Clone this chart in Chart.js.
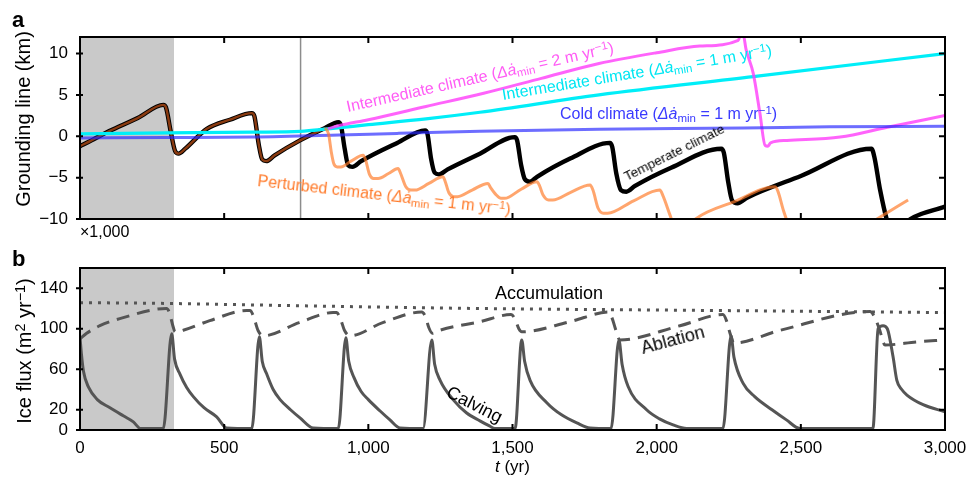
<!DOCTYPE html>
<html lang="en">
<head>
<meta charset="UTF-8">
<title>Grounding line and ice flux</title>
<style>
body { margin:0; background:#fff; font-family:"Liberation Sans", Arial, sans-serif; }
#wrap { position:relative; width:970px; height:477px; overflow:hidden; }
canvas { position:absolute; left:0; }
.lab { position:absolute; white-space:nowrap; line-height:1; font-size:16px; transform-origin:0 0.85em; }
.ytitle { position:absolute; white-space:nowrap; line-height:1; font-size:20px; transform:translate(-50%,-50%) rotate(-90deg); }
.panel { position:absolute; font-weight:bold; font-size:22px; line-height:1; }
.sub { font-size:0.72em; position:relative; top:0.3em; }
.sup { font-size:0.72em; position:relative; top:-0.45em; }
</style>
</head>
<body>
<div id="wrap">
<canvas id="chartA" width="970" height="240" style="top:0"></canvas>
<canvas id="chartB" width="970" height="237" style="top:240px"></canvas>

<div class="panel" style="left:12px;top:9px">a</div>
<div class="panel" style="left:12px;top:248px">b</div>
<div class="ytitle" style="left:23px;top:119px">Grounding line (km)</div>
<div class="ytitle" style="left:24px;top:351px">Ice flux (m<span class="sup">2</span> yr<span class="sup">&minus;1</span>)</div>
<div class="lab" style="left:80px;top:224px">&times;1,000</div>

<div class="lab" style="left:348px;top:99px;color:#ff5cf5;transform:rotate(-12.6deg)">Intermediate climate (<i>&Delta;&#551;</i><span class="sub">min</span> = 2 m yr<span class="sup">&minus;1</span>)</div>
<div class="lab" style="left:503px;top:87px;color:#00e6f2;transform:rotate(-9.4deg)">Intermediate climate (<i>&Delta;&#551;</i><span class="sub">min</span> = 1 m yr<span class="sup">&minus;1</span>)</div>
<div class="lab" style="left:560px;top:106px;color:#3a3aff">Cold climate (<i>&Delta;&#551;</i><span class="sub">min</span> = 1 m yr<span class="sup">&minus;1</span>)</div>
<div class="lab" style="left:627px;top:170px;font-size:13.5px;transform:rotate(-26.5deg)">Temperate climate</div>
<div class="lab" style="left:257px;top:173px;color:#ff7a2a;transform:rotate(6.5deg)">Perturbed climate (<i>&Delta;&#551;</i><span class="sub">min</span> = 1 m yr<span class="sup">&minus;1</span>)</div>

<div class="lab" style="left:495px;top:284px;font-size:18px">Accumulation</div>
<div class="lab" style="left:643px;top:339px;font-size:18px;transform:rotate(-15deg)">Ablation</div>
<div class="lab" style="left:445px;top:381px;font-size:18px;transform:rotate(27deg)">Calving</div>
<div class="lab" style="left:495px;top:458px;font-size:17px"><i>t</i> (yr)</div>
</div>

<script src="https://cdn.jsdelivr.net/npm/chart.js"></script>
<script>
// ---- panel a: grounding line position (km) ----
const tempT  = [0, 40, 100, 200, 289, 298, 315, 330, 342, 365, 440, 520, 596, 605, 620, 632, 646, 675, 763, 850,
  896, 905, 918, 930, 945, 975, 1100, 1197, 1205, 1218, 1230, 1245, 1275, 1387, 1508, 1516, 1530, 1543, 1560, 1585,
  1700, 1838, 1846, 1860, 1876, 1895, 1925, 2050, 2224, 2233, 2248, 2262, 2280, 2315, 2500, 2745, 2755, 2775, 2800,
  2815, 2835, 2880, 3000];
const tempKm = [-1.2, -0.5, 0.6, 2.2, 3.8, 3.5, 0.5, -1.8, -2.1, -1.5, 0.9, 2.0, 2.8, 2.4, -1.0, -2.8, -3.0, -2.3, -0.5, 1.0,
  1.7, 1.3, -1.5, -3.5, -3.7, -3.0, -0.8, 0.7, 0.3, -2.8, -4.4, -4.6, -4.0, -2.1, -0.1, -0.5, -3.5, -5.2, -5.5, -4.9,
  -2.7, -0.8, -1.3, -4.5, -6.5, -6.7, -6.0, -3.8, -1.5, -2.0, -5.5, -7.8, -8.1, -7.4, -4.8, -1.5, -2.5, -6.5, -10.3,
  -11.5, -11.4, -10.0, -8.5];
const spinupEnd = 860;   // brown part of the temperate run

const perturbT  = [850, 862, 872, 880, 892, 905, 940, 982, 990, 1004, 1018, 1034, 1070, 1103, 1112, 1130, 1148, 1162,
  1210, 1259, 1266, 1279, 1296, 1309, 1360, 1415, 1424, 1444, 1460, 1472, 1530, 1585, 1594, 1606, 1625, 1640, 1700,
  1769, 1779, 1797, 1815, 1830, 1920, 2011, 2022, 2046, 2062, 2080, 2100, 2135, 2270, 2410, 2420, 2440, 2465, 2600,
  2740, 2764, 2872];
const perturbKm = [1.0, 0.3, -2.0, -3.3, -3.7, -3.7, -3.0, -2.3, -2.8, -4.6, -5.1, -5.1, -4.5, -3.9, -4.5, -6.1, -6.5, -6.5,
  -5.7, -4.9, -5.4, -6.8, -7.3, -7.3, -6.5, -5.7, -6.2, -7.1, -7.5, -7.5, -6.4, -5.5, -6.0, -7.1, -7.7, -7.7, -6.8,
  -5.9, -6.5, -8.7, -9.3, -9.3, -7.8, -6.5, -7.2, -9.5, -11.0, -11.6, -11.3, -10.0, -7.9, -6.1, -6.6, -9.0, -11.5, null,
  -10.5, -10.0, -7.7];

const inter2T  = [860, 900, 1000, 1200, 1400, 1600, 1800, 2000, 2150, 2283, 2292, 2300, 2310, 2335, 2358, 2376, 2386,
  2395, 2452, 2636, 2800, 3000];
const inter2Km = [0.9, 1.3, 2.0, 3.6, 5.2, 7.0, 8.8, 10.1, 10.9, 11.6, 12.3, 12.3, 10.5, 7.6, 2.8, -1.1, -1.2,
  -0.8, -0.5, -0.1, 1.1, 2.5];

const inter1T  = [0, 300, 600, 765, 860, 1000, 1200, 1387, 1800, 2335, 3000];
const inter1Km = [0.3, 0.4, 0.5, 0.6, 0.9, 1.4, 2.1, 2.9, 5.0, 7.2, 10.0];

const coldT  = [0, 300, 600, 900, 1100, 1387, 1800, 2300, 2600, 3000];
const coldKm = [-0.2, -0.15, -0.1, 0.15, 0.35, 0.6, 0.85, 1.0, 1.15, 1.2];

// ---- panel b: ice flux (m2 yr-1) ----
const calvT = [0, 5, 12, 30, 60, 104, 150, 185, 210, 289, 318, 328, 347, 370, 393, 430, 474, 509, 596, 622, 632, 648,
  670, 694, 730, 763, 809, 896, 922, 932, 950, 975, 1000, 1040, 1075, 1110, 1190, 1220, 1230, 1249, 1294, 1340, 1387,
  1420, 1439, 1509, 1532, 1542, 1561, 1619, 1670, 1723, 1769, 1842, 1869, 1880, 1901, 1965, 2010, 2057, 2104, 2230,
  2258, 2268, 2300, 2340, 2400, 2450, 2497, 2750, 2768, 2785, 2800, 2820, 2833, 2850, 2868, 2924, 3000];
const calvQ = [92, 75, 58, 42, 30, 22, 14, 8, 1.5, 1.5, 95, 70, 55, 42, 33, 22, 13, 2, 1.5, 92, 68, 55,
  40, 30, 20, 12, 2, 1.5, 91, 68, 52, 38, 30, 19, 10, 2, 1.5, 89, 65, 49, 30, 17, 9,
  4, 1.5, 1.5, 89, 68, 49, 27, 15, 7, 2, 1.5, 89, 65, 43, 20, 11, 5, 1.5, 1.5,
  93, 72, 46, 33, 20, 10, 1.5, 1.5, 100, 103, 100, 72, 49, 40, 34.5, 25, 18];

const ablT = [0, 23, 69, 150, 300, 310, 322, 330, 358, 450, 578, 590, 602, 618, 636, 760, 878, 890, 903, 918, 936,
  1050, 1185, 1198, 1210, 1222, 1248, 1387, 1495, 1508, 1522, 1532, 1700, 1834, 1846, 1858, 1872, 2081, 2230, 2242,
  2255, 2268, 2428, 2740, 2755, 2772, 2792, 2900, 3000];
const ablQ = [90, 95.5, 103, 111, 120, 116, 103, 97, 98.5, 108, 118, 118, 112, 98, 93, 106, 116, 116, 110, 98, 93,
  106, 116.5, 112, 101, 95.5, 98.5, 107, 114, 110, 100, 97, 107, 116.5, 110, 99, 89, 103, 114, 108,
  95, 86, 98.5, 117, 112, 100, 84, 87, 89];

const accT = [0, 300, 800, 1387, 2000, 2500, 3000];
const accQ = [125.8, 125, 122.5, 120, 118.5, 117.3, 116];

const shadeEnd = 326;   // grey spin-up window
const markT = 765;      // vertical marker in panel a
const xTicks = [0, 500, 1000, 1500, 2000, 2500, 3000];
const yTicksA = [-10, -5, 0, 5, 10];
const yTicksB = [0, 20, 60, 100, 140];

const pts = (t, v) => t.map((x, i) => ({x: x, y: v[i]}));
const tickFont = {family: '"Liberation Sans", Arial, sans-serif', size: 17};

// shading, marker line, frame and inward ticks
const framePlugin = {
  id: 'frame',
  beforeDatasetsDraw(chart, args, opts) {
    const {ctx, chartArea: a, scales: {x}} = chart;
    ctx.save();
    ctx.fillStyle = '#c9c9c9';
    ctx.fillRect(a.left, a.top, x.getPixelForValue(shadeEnd) - a.left, a.bottom - a.top);
    if (opts.mark != null) {
      const px = x.getPixelForValue(opts.mark);
      ctx.strokeStyle = '#8c8c8c';
      ctx.lineWidth = 1.5;
      ctx.beginPath(); ctx.moveTo(px, a.top); ctx.lineTo(px, a.bottom); ctx.stroke();
    }
    ctx.restore();
  },
  afterDatasetsDraw(chart, args, opts) {
    const {ctx, chartArea: a, scales: {x, y}} = chart;
    ctx.save();
    ctx.strokeStyle = '#000';
    ctx.lineWidth = 2;
    ctx.beginPath();
    xTicks.forEach(v => {
      if (v <= x.min || v >= x.max) return;
      const px = x.getPixelForValue(v);
      ctx.moveTo(px, a.bottom); ctx.lineTo(px, a.bottom - 6);
      ctx.moveTo(px, a.top); ctx.lineTo(px, a.top + 6);
    });
    opts.yTicks.forEach(v => {
      const py = y.getPixelForValue(v);
      ctx.moveTo(a.left - 4, py); ctx.lineTo(a.left + 3, py);
      ctx.moveTo(a.right, py); ctx.lineTo(a.right - 6, py);
    });
    ctx.stroke();
    ctx.strokeRect(a.left, a.top, a.right - a.left, a.bottom - a.top);
    ctx.restore();
  }
};

function line(data, color, width, order, extra) {
  return Object.assign({data: data, borderColor: color, borderWidth: width, order: order, clip: 0,
    pointRadius: 0, cubicInterpolationMode: 'monotone', spanGaps: false, fill: false}, extra || {});
}

const yAxisBase = (min, max, ticks) => ({
  type: 'linear', min: min, max: max,
  afterFit: s => { s.width = 80; s.paddingTop = 0; s.paddingBottom = 0; },
  afterBuildTicks: s => { s.ticks = ticks.map(v => ({value: v})); },
  grid: {display: false, drawTicks: false},
  border: {display: false},
  ticks: {font: tickFont, color: '#000', padding: 12,
    callback: v => v < 0 ? '\u2212' + Math.abs(v) : String(v)}
});

new Chart(document.getElementById('chartA'), {
  type: 'line',
  data: {datasets: [
    line(pts(perturbT, perturbKm), 'rgba(255,122,40,0.68)', 3, 0),
    line(pts(coldT, coldKm), 'rgba(40,40,255,0.68)', 3, 1),
    line(pts(inter2T, inter2Km), 'rgba(255,60,250,0.8)', 3, 2),
    line(pts(inter1T, inter1Km), '#00eef8', 3.2, 3),
    line(pts(tempT, tempKm).filter(p => p.x <= spinupEnd), '#8a3a10', 2.4, 4),
    line(pts(tempT, tempKm), '#000', 4.4, 5)
  ]},
  options: {
    responsive: false, animation: false,
    layout: {padding: {left: 0, right: 25, top: 37, bottom: 21}},
    scales: {
      x: {type: 'linear', min: 0, max: 3000, display: false},
      y: yAxisBase(-10, 12, yTicksA)
    },
    plugins: {legend: {display: false}, tooltip: {enabled: false}, frame: {mark: markT, yTicks: yTicksA}}
  },
  plugins: [framePlugin]
});

new Chart(document.getElementById('chartB'), {
  type: 'line',
  data: {datasets: [
    line(pts(calvT, calvQ), '#555', 3, 0),
    line(pts(ablT, ablQ), '#555', 3, 1, {borderDash: [13, 8]}),
    line(pts(accT, accQ), '#555', 3, 2, {borderDash: [3, 6]})
  ]},
  options: {
    responsive: false, animation: false,
    layout: {padding: {left: 0, right: 25, top: 28, bottom: 0}},
    scales: {
      x: {type: 'linear', min: 0, max: 3000,
        afterFit: s => { s.height = 47; s.paddingLeft = 0; s.paddingRight = 0; },
        afterBuildTicks: s => { s.ticks = xTicks.map(v => ({value: v})); },
        grid: {display: false, drawTicks: false},
        border: {display: false},
        ticks: {font: tickFont, color: '#000', padding: 8, autoSkip: false, maxRotation: 0,
          callback: v => v.toLocaleString('en-US')}},
      y: yAxisBase(0, 160, yTicksB)
    },
    plugins: {legend: {display: false}, tooltip: {enabled: false}, frame: {mark: null, yTicks: yTicksB}}
  },
  plugins: [framePlugin]
});
</script>
</body>
</html>
